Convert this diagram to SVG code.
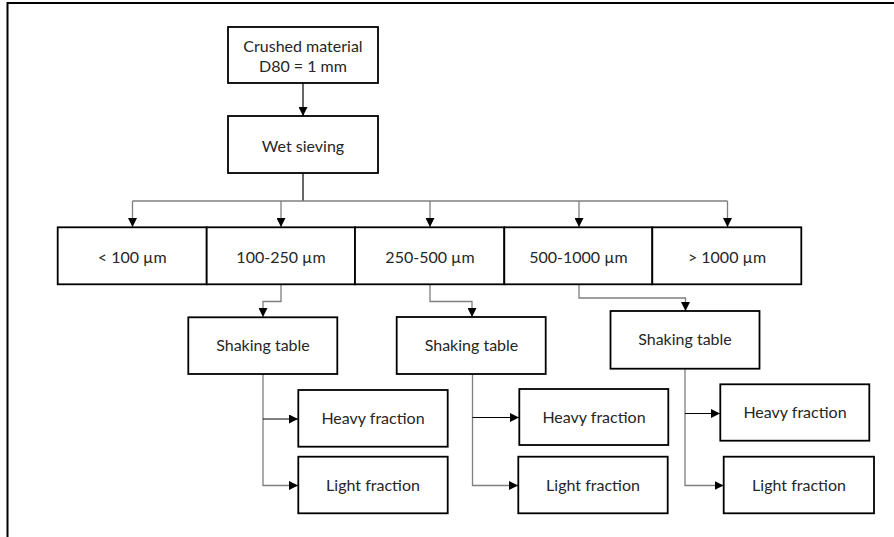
<svg xmlns="http://www.w3.org/2000/svg" width="894" height="537" viewBox="0 0 894 537">
<defs>
<style>
.box{fill:#fff;stroke:#000;stroke-width:1.8}
.t{font-family:Lato,"Open Sans","Liberation Sans",sans-serif;font-size:16px;fill:#262626;text-anchor:middle}
.c{fill:none;stroke:#7f7f7f;stroke-width:1.3}
.k{fill:none;stroke:#000;stroke-width:1.2}
</style>
<marker id="ah" viewBox="0 0 10 10" refX="10" refY="5" markerWidth="9" markerHeight="9" markerUnits="userSpaceOnUse" orient="auto">
<path d="M0,0 L10,5 L0,10 z" fill="#000"/>
</marker>
</defs>
<rect x="0" y="0" width="894" height="537" fill="#fff"/>
<path d="M7.5,537 V3 H894" fill="none" stroke="#000" stroke-width="2"/>
<g id="connectors">
<path class="k" d="M303,83 V116" marker-end="url(#ah)"/>
<path class="k" d="M303,173 V201"/>
<path class="c" d="M132.5,201 H727.5"/>
<path class="c" d="M132.5,201 V227" marker-end="url(#ah)"/>
<path class="c" d="M281,201 V227" marker-end="url(#ah)"/>
<path class="c" d="M430,201 V227" marker-end="url(#ah)"/>
<path class="c" d="M579,201 V227" marker-end="url(#ah)"/>
<path class="c" d="M727.5,201 V227" marker-end="url(#ah)"/>
<path class="c" d="M281,284 V301.5 H263 V317" marker-end="url(#ah)"/>
<path class="c" d="M430,284 V301.5 H472 V317" marker-end="url(#ah)"/>
<path class="c" d="M579,284 V298 H685.5 V311" marker-end="url(#ah)"/>
<path class="c" d="M263,374 V485.5 H298" marker-end="url(#ah)"/>
<path class="k" d="M263,419 H298" marker-end="url(#ah)"/>
<path class="c" d="M472.5,374 V485.5 H518" marker-end="url(#ah)"/>
<path class="k" d="M472.5,417.5 H519" marker-end="url(#ah)"/>
<path class="c" d="M685,369 V485.5 H723.5" marker-end="url(#ah)"/>
<path class="k" d="M685,413.5 H720" marker-end="url(#ah)"/>
</g>
<g id="crushed"><rect class="box" x="228" y="27" width="150" height="56"/><text class="t" x="303" y="52">Crushed material</text><text class="t" x="303" y="72">D80 = 1 mm</text></g>
<g id="wet"><rect class="box" x="228" y="116" width="150" height="57"/><text class="t" x="303" y="152">Wet sieving</text></g>
<g id="s1"><rect class="box" x="57.7" y="227.3" width="149" height="57"/><text class="t" x="132.2" y="263">&lt; 100 µm</text></g>
<g id="s2"><rect class="box" x="206.7" y="227.3" width="148.3" height="57"/><text class="t" x="281" y="263">100-250 µm</text></g>
<g id="s3"><rect class="box" x="355" y="227.3" width="149.3" height="57"/><text class="t" x="430" y="263">250-500 µm</text></g>
<g id="s4"><rect class="box" x="504.3" y="227.3" width="148" height="57"/><text class="t" x="578.5" y="263">500-1000 µm</text></g>
<g id="s5"><rect class="box" x="652.3" y="227.3" width="149" height="57"/><text class="t" x="727" y="263">&gt; 1000 µm</text></g>
<g id="shake1"><rect class="box" x="188.3" y="317.3" width="149" height="56.7"/><text class="t" x="263" y="351">Shaking table</text></g>
<g id="shake2"><rect class="box" x="396.7" y="317" width="149" height="57"/><text class="t" x="471.5" y="351">Shaking table</text></g>
<g id="shake3"><rect class="box" x="610.5" y="311" width="149" height="57.7"/><text class="t" x="685" y="345">Shaking table</text></g>
<g id="heavy1"><rect class="box" x="298.3" y="390" width="149.4" height="56.7"/><text class="t" x="373" y="424">Heavy fraction</text></g>
<g id="light1"><rect class="box" x="298.3" y="456.7" width="149.4" height="56.6"/><text class="t" x="373" y="491">Light fraction</text></g>
<g id="heavy2"><rect class="box" x="519.3" y="389" width="149" height="56"/><text class="t" x="594" y="423">Heavy fraction</text></g>
<g id="light2"><rect class="box" x="518.3" y="456.7" width="149.4" height="56.6"/><text class="t" x="593" y="491">Light fraction</text></g>
<g id="heavy3"><rect class="box" x="720.3" y="384.3" width="149" height="56.4"/><text class="t" x="795" y="418">Heavy fraction</text></g>
<g id="light3"><rect class="box" x="723.7" y="456.7" width="150.3" height="56.6"/><text class="t" x="799" y="491">Light fraction</text></g>
</svg>
